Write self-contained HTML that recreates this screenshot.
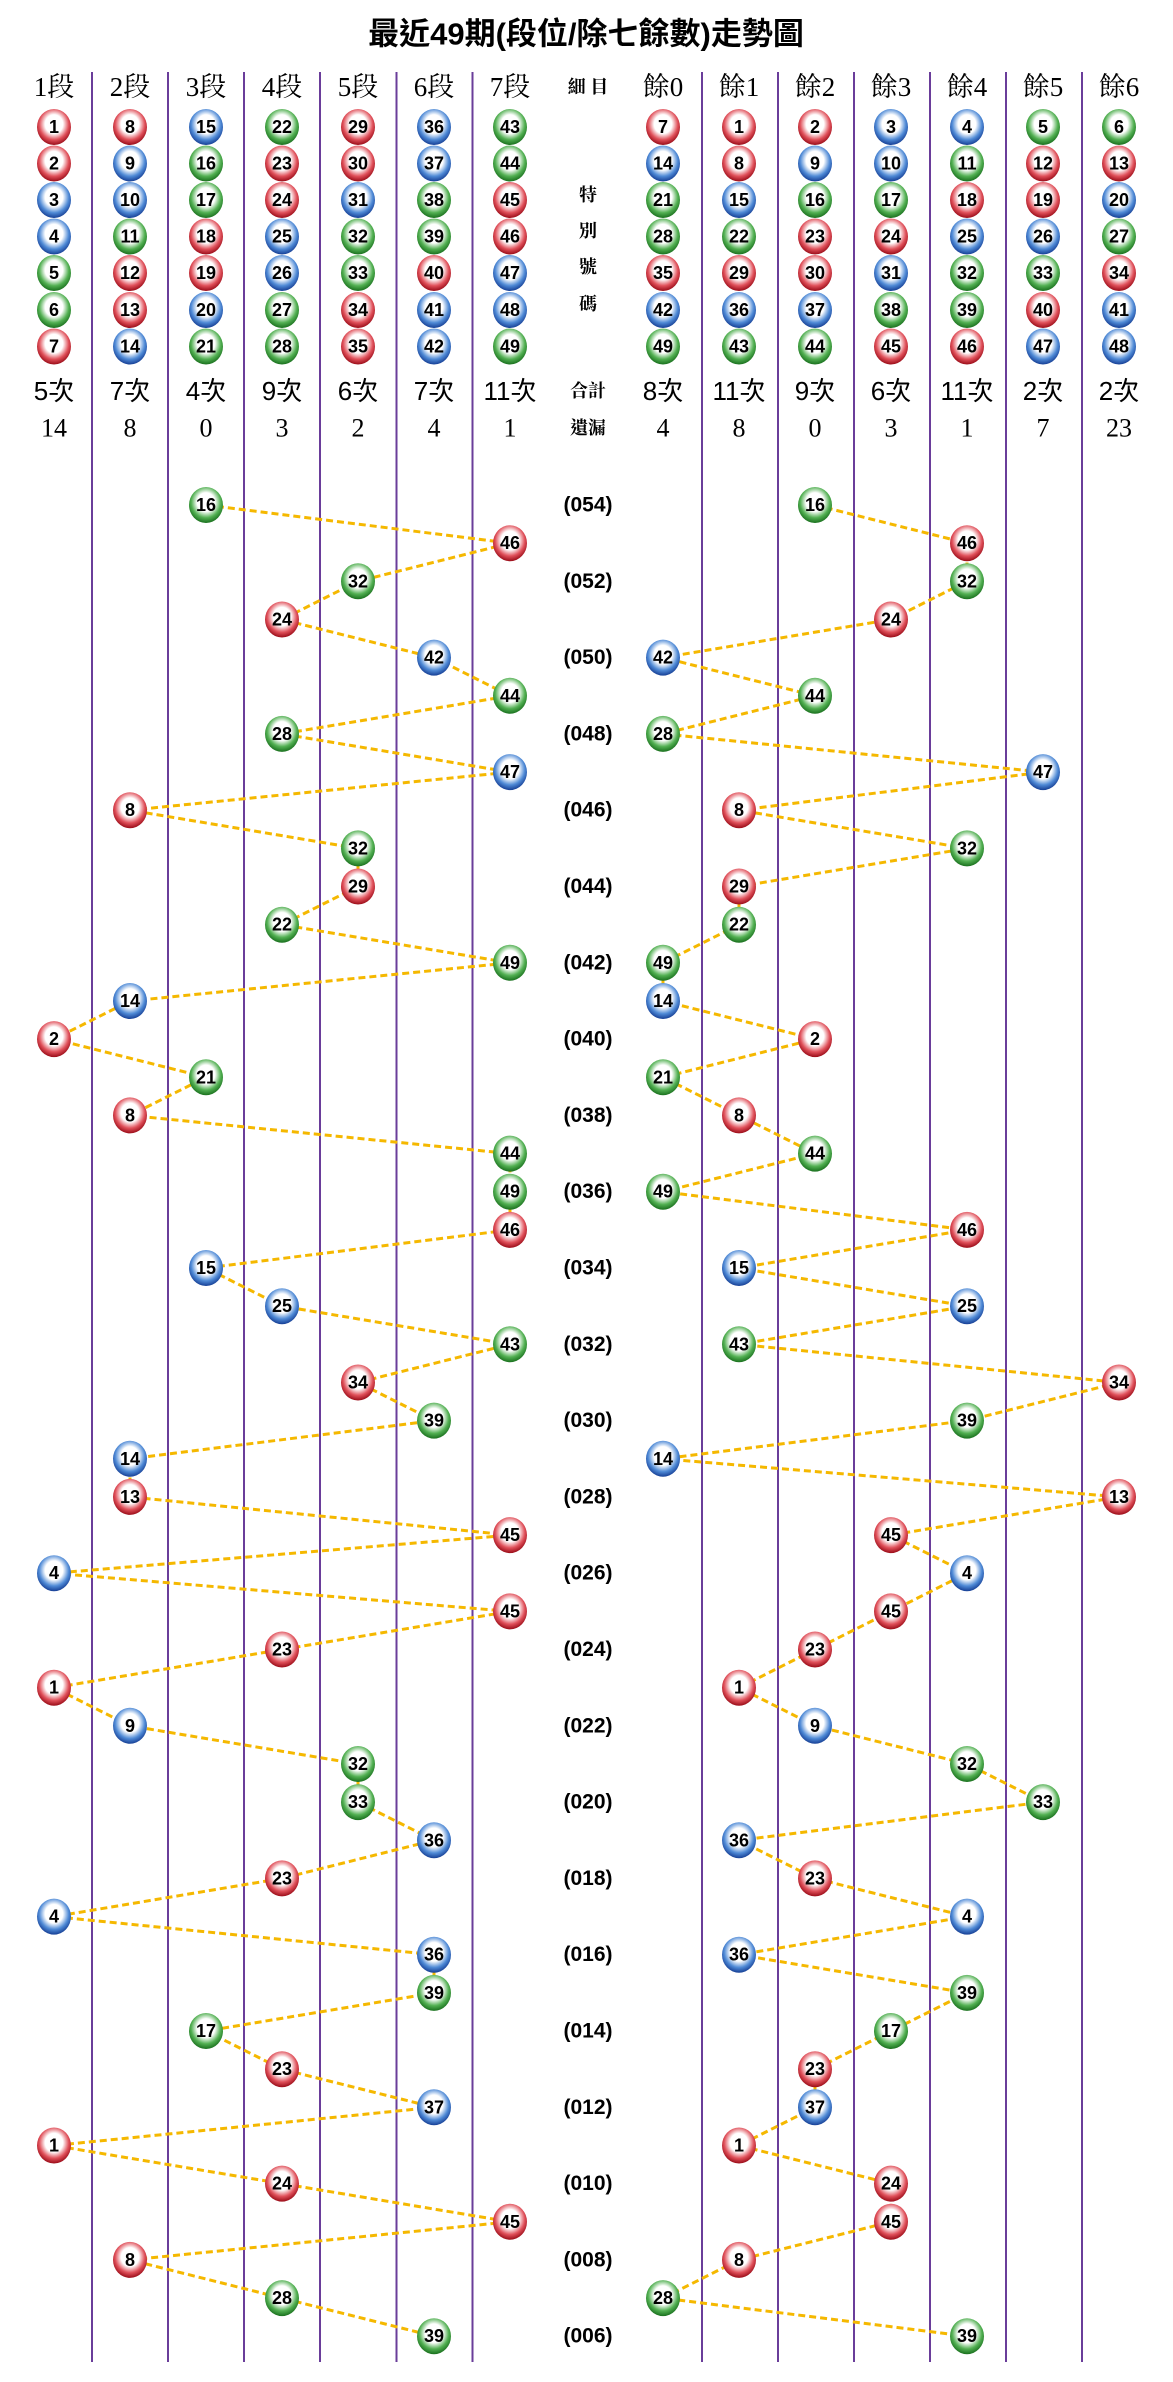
<!DOCTYPE html>
<html><head><meta charset="utf-8"><style>
html,body{margin:0;padding:0;background:#fff;}
svg{display:block;}
.n{font-family:"Liberation Sans Narrow","Liberation Sans",sans-serif;font-weight:bold;font-size:18px;text-anchor:middle;dominant-baseline:central;fill:#000;}
.h{font-family:"Liberation Serif","Noto Serif CJK SC",serif;font-size:27px;text-anchor:middle;dominant-baseline:central;}
.c{font-family:"Liberation Sans","Noto Sans CJK TC",sans-serif;font-size:26px;text-anchor:middle;dominant-baseline:central;}
.m{font-family:"Liberation Serif","Noto Serif CJK TC",serif;font-size:18px;font-weight:bold;text-anchor:middle;dominant-baseline:central;}
.p{font-family:"Liberation Sans",sans-serif;font-size:21px;font-weight:bold;text-anchor:middle;dominant-baseline:central;}
</style></head><body>
<svg width="1173" height="2382" viewBox="0 0 1173 2382" xmlns="http://www.w3.org/2000/svg">
<defs>
<radialGradient id="gR" cx="50%" cy="42%" r="58%"><stop offset="0" stop-color="#fff"/><stop offset="0.45" stop-color="#fff"/><stop offset="0.75" stop-color="#e0505a"/><stop offset="1" stop-color="#9a0c18"/></radialGradient>
<radialGradient id="gB" cx="50%" cy="42%" r="58%"><stop offset="0" stop-color="#fff"/><stop offset="0.45" stop-color="#fff"/><stop offset="0.75" stop-color="#4f8ad6"/><stop offset="1" stop-color="#163f95"/></radialGradient>
<radialGradient id="gG" cx="50%" cy="42%" r="58%"><stop offset="0" stop-color="#fff"/><stop offset="0.45" stop-color="#fff"/><stop offset="0.75" stop-color="#52b052"/><stop offset="1" stop-color="#1a701e"/></radialGradient>
<g id="r"><ellipse cx="0" cy="0" rx="17" ry="18" fill="url(#gR)"/></g>
<g id="b"><ellipse cx="0" cy="0" rx="17" ry="18" fill="url(#gB)"/></g>
<g id="g"><ellipse cx="0" cy="0" rx="17" ry="18" fill="url(#gG)"/></g>
</defs>

<text x="586" y="34" font-family="Liberation Sans,Noto Sans CJK TC,sans-serif" font-size="31" font-weight="bold" text-anchor="middle" dominant-baseline="central">最近49期(段位/除七餘數)走勢圖</text>

<g stroke="#6a3d9a" stroke-width="2">
<line x1="92" y1="72" x2="92" y2="2362"/><line x1="168" y1="72" x2="168" y2="2362"/><line x1="244" y1="72" x2="244" y2="2362"/><line x1="320" y1="72" x2="320" y2="2362"/><line x1="396.5" y1="72" x2="396.5" y2="2362"/><line x1="472.5" y1="72" x2="472.5" y2="2362"/>
<line x1="702" y1="72" x2="702" y2="2362"/><line x1="778" y1="72" x2="778" y2="2362"/><line x1="854" y1="72" x2="854" y2="2362"/><line x1="930" y1="72" x2="930" y2="2362"/><line x1="1006" y1="72" x2="1006" y2="2362"/><line x1="1082" y1="72" x2="1082" y2="2362"/>
</g>

<text class="h" x="54" y="87">1段</text><text class="h" x="130" y="87">2段</text><text class="h" x="206" y="87">3段</text><text class="h" x="282" y="87">4段</text><text class="h" x="358" y="87">5段</text><text class="h" x="434" y="87">6段</text><text class="h" x="510" y="87">7段</text>
<text class="m" x="588" y="87">細 目</text>
<text class="h" x="663" y="87">餘0</text><text class="h" x="739" y="87">餘1</text><text class="h" x="815" y="87">餘2</text><text class="h" x="891" y="87">餘3</text><text class="h" x="967" y="87">餘4</text><text class="h" x="1043" y="87">餘5</text><text class="h" x="1119" y="87">餘6</text>
<text class="m" x="588" y="195">特</text><text class="m" x="588" y="231">別</text><text class="m" x="588" y="267">號</text><text class="m" x="588" y="304">碼</text>

<!-- header balls -->
<use href="#r" x="54" y="127"/><use href="#r" x="54" y="163.5"/><use href="#b" x="54" y="200"/><use href="#b" x="54" y="236.5"/><use href="#g" x="54" y="273"/><use href="#g" x="54" y="310"/><use href="#r" x="54" y="346.5"/>
<use href="#r" x="130" y="127"/><use href="#b" x="130" y="163.5"/><use href="#b" x="130" y="200"/><use href="#g" x="130" y="236.5"/><use href="#r" x="130" y="273"/><use href="#r" x="130" y="310"/><use href="#b" x="130" y="346.5"/>
<use href="#b" x="206" y="127"/><use href="#g" x="206" y="163.5"/><use href="#g" x="206" y="200"/><use href="#r" x="206" y="236.5"/><use href="#r" x="206" y="273"/><use href="#b" x="206" y="310"/><use href="#g" x="206" y="346.5"/>
<use href="#g" x="282" y="127"/><use href="#r" x="282" y="163.5"/><use href="#r" x="282" y="200"/><use href="#b" x="282" y="236.5"/><use href="#b" x="282" y="273"/><use href="#g" x="282" y="310"/><use href="#g" x="282" y="346.5"/>
<use href="#r" x="358" y="127"/><use href="#r" x="358" y="163.5"/><use href="#b" x="358" y="200"/><use href="#g" x="358" y="236.5"/><use href="#g" x="358" y="273"/><use href="#r" x="358" y="310"/><use href="#r" x="358" y="346.5"/>
<use href="#b" x="434" y="127"/><use href="#b" x="434" y="163.5"/><use href="#g" x="434" y="200"/><use href="#g" x="434" y="236.5"/><use href="#r" x="434" y="273"/><use href="#b" x="434" y="310"/><use href="#b" x="434" y="346.5"/>
<use href="#g" x="510" y="127"/><use href="#g" x="510" y="163.5"/><use href="#r" x="510" y="200"/><use href="#r" x="510" y="236.5"/><use href="#b" x="510" y="273"/><use href="#b" x="510" y="310"/><use href="#g" x="510" y="346.5"/>
<use href="#r" x="663" y="127"/><use href="#b" x="663" y="163.5"/><use href="#g" x="663" y="200"/><use href="#g" x="663" y="236.5"/><use href="#r" x="663" y="273"/><use href="#b" x="663" y="310"/><use href="#g" x="663" y="346.5"/>
<use href="#r" x="739" y="127"/><use href="#r" x="739" y="163.5"/><use href="#b" x="739" y="200"/><use href="#g" x="739" y="236.5"/><use href="#r" x="739" y="273"/><use href="#b" x="739" y="310"/><use href="#g" x="739" y="346.5"/>
<use href="#r" x="815" y="127"/><use href="#b" x="815" y="163.5"/><use href="#g" x="815" y="200"/><use href="#r" x="815" y="236.5"/><use href="#r" x="815" y="273"/><use href="#b" x="815" y="310"/><use href="#g" x="815" y="346.5"/>
<use href="#b" x="891" y="127"/><use href="#b" x="891" y="163.5"/><use href="#g" x="891" y="200"/><use href="#r" x="891" y="236.5"/><use href="#b" x="891" y="273"/><use href="#g" x="891" y="310"/><use href="#r" x="891" y="346.5"/>
<use href="#b" x="967" y="127"/><use href="#g" x="967" y="163.5"/><use href="#r" x="967" y="200"/><use href="#b" x="967" y="236.5"/><use href="#g" x="967" y="273"/><use href="#g" x="967" y="310"/><use href="#r" x="967" y="346.5"/>
<use href="#g" x="1043" y="127"/><use href="#r" x="1043" y="163.5"/><use href="#r" x="1043" y="200"/><use href="#b" x="1043" y="236.5"/><use href="#g" x="1043" y="273"/><use href="#r" x="1043" y="310"/><use href="#b" x="1043" y="346.5"/>
<use href="#g" x="1119" y="127"/><use href="#r" x="1119" y="163.5"/><use href="#b" x="1119" y="200"/><use href="#g" x="1119" y="236.5"/><use href="#r" x="1119" y="273"/><use href="#b" x="1119" y="310"/><use href="#b" x="1119" y="346.5"/>

<g class="n">
<text x="54" y="127">1</text><text x="54" y="163.5">2</text><text x="54" y="200">3</text><text x="54" y="236.5">4</text><text x="54" y="273">5</text><text x="54" y="310">6</text><text x="54" y="346.5">7</text>
<text x="130" y="127">8</text><text x="130" y="163.5">9</text><text x="130" y="200">10</text><text x="130" y="236.5">11</text><text x="130" y="273">12</text><text x="130" y="310">13</text><text x="130" y="346.5">14</text>
<text x="206" y="127">15</text><text x="206" y="163.5">16</text><text x="206" y="200">17</text><text x="206" y="236.5">18</text><text x="206" y="273">19</text><text x="206" y="310">20</text><text x="206" y="346.5">21</text>
<text x="282" y="127">22</text><text x="282" y="163.5">23</text><text x="282" y="200">24</text><text x="282" y="236.5">25</text><text x="282" y="273">26</text><text x="282" y="310">27</text><text x="282" y="346.5">28</text>
<text x="358" y="127">29</text><text x="358" y="163.5">30</text><text x="358" y="200">31</text><text x="358" y="236.5">32</text><text x="358" y="273">33</text><text x="358" y="310">34</text><text x="358" y="346.5">35</text>
<text x="434" y="127">36</text><text x="434" y="163.5">37</text><text x="434" y="200">38</text><text x="434" y="236.5">39</text><text x="434" y="273">40</text><text x="434" y="310">41</text><text x="434" y="346.5">42</text>
<text x="510" y="127">43</text><text x="510" y="163.5">44</text><text x="510" y="200">45</text><text x="510" y="236.5">46</text><text x="510" y="273">47</text><text x="510" y="310">48</text><text x="510" y="346.5">49</text>
<text x="663" y="127">7</text><text x="663" y="163.5">14</text><text x="663" y="200">21</text><text x="663" y="236.5">28</text><text x="663" y="273">35</text><text x="663" y="310">42</text><text x="663" y="346.5">49</text>
<text x="739" y="127">1</text><text x="739" y="163.5">8</text><text x="739" y="200">15</text><text x="739" y="236.5">22</text><text x="739" y="273">29</text><text x="739" y="310">36</text><text x="739" y="346.5">43</text>
<text x="815" y="127">2</text><text x="815" y="163.5">9</text><text x="815" y="200">16</text><text x="815" y="236.5">23</text><text x="815" y="273">30</text><text x="815" y="310">37</text><text x="815" y="346.5">44</text>
<text x="891" y="127">3</text><text x="891" y="163.5">10</text><text x="891" y="200">17</text><text x="891" y="236.5">24</text><text x="891" y="273">31</text><text x="891" y="310">38</text><text x="891" y="346.5">45</text>
<text x="967" y="127">4</text><text x="967" y="163.5">11</text><text x="967" y="200">18</text><text x="967" y="236.5">25</text><text x="967" y="273">32</text><text x="967" y="310">39</text><text x="967" y="346.5">46</text>
<text x="1043" y="127">5</text><text x="1043" y="163.5">12</text><text x="1043" y="200">19</text><text x="1043" y="236.5">26</text><text x="1043" y="273">33</text><text x="1043" y="310">40</text><text x="1043" y="346.5">47</text>
<text x="1119" y="127">6</text><text x="1119" y="163.5">13</text><text x="1119" y="200">20</text><text x="1119" y="236.5">27</text><text x="1119" y="273">34</text><text x="1119" y="310">41</text><text x="1119" y="346.5">48</text>
</g>

<g class="c">
<text x="54" y="391">5次</text><text x="130" y="391">7次</text><text x="206" y="391">4次</text><text x="282" y="391">9次</text><text x="358" y="391">6次</text><text x="434" y="391">7次</text><text x="510" y="391">11次</text>
<text x="663" y="391">8次</text><text x="739" y="391">11次</text><text x="815" y="391">9次</text><text x="891" y="391">6次</text><text x="967" y="391">11次</text><text x="1043" y="391">2次</text><text x="1119" y="391">2次</text>
</g>
<text class="m" x="588" y="391">合計</text><text class="m" x="588" y="428">遺漏</text>
<g class="h" style="font-size:26px">
<text x="54" y="428">14</text><text x="130" y="428">8</text><text x="206" y="428">0</text><text x="282" y="428">3</text><text x="358" y="428">2</text><text x="434" y="428">4</text><text x="510" y="428">1</text>
<text x="663" y="428">4</text><text x="739" y="428">8</text><text x="815" y="428">0</text><text x="891" y="428">3</text><text x="967" y="428">1</text><text x="1043" y="428">7</text><text x="1119" y="428">23</text>
</g>

<!-- trend lines -->
<g fill="none" stroke="#f5b800" stroke-width="3" stroke-dasharray="7,4">
<polyline points="206,505 510,543.2 358,581.3 282,619.5 434,657.6 510,695.8 282,733.9 510,772.1 130,810.2 358,848.4 358,886.5 282,924.7 510,962.8 130,1001 54,1039.1 206,1077.3 130,1115.4 510,1153.6 510,1191.7 510,1229.9 206,1268 282,1306.2 510,1344.3 358,1382.5 434,1420.6 130,1458.8 130,1496.9 510,1535.1 54,1573.2 510,1611.4 282,1649.5 54,1687.7 130,1725.8 358,1764 358,1802.1 434,1840.3 282,1878.4 54,1916.6 434,1954.7 434,1992.9 206,2031 282,2069.2 434,2107.3 54,2145.5 282,2183.6 510,2221.8 130,2259.9 282,2298.1 434,2336.2"/>
<polyline points="815,505 967,543.2 967,581.3 891,619.5 663,657.6 815,695.8 663,733.9 1043,772.1 739,810.2 967,848.4 739,886.5 739,924.7 663,962.8 663,1001 815,1039.1 663,1077.3 739,1115.4 815,1153.6 663,1191.7 967,1229.9 739,1268 967,1306.2 739,1344.3 1119,1382.5 967,1420.6 663,1458.8 1119,1496.9 891,1535.1 967,1573.2 891,1611.4 815,1649.5 739,1687.7 815,1725.8 967,1764 1043,1802.1 739,1840.3 815,1878.4 967,1916.6 739,1954.7 967,1992.9 891,2031 815,2069.2 815,2107.3 739,2145.5 891,2183.6 891,2221.8 739,2259.9 663,2298.1 967,2336.2"/>
</g>

<!-- period labels -->
<g class="p">
<text x="588" y="505">(054)</text><text x="588" y="581.3">(052)</text><text x="588" y="657.6">(050)</text><text x="588" y="733.9">(048)</text><text x="588" y="810.2">(046)</text><text x="588" y="886.5">(044)</text><text x="588" y="962.8">(042)</text><text x="588" y="1039.1">(040)</text><text x="588" y="1115.4">(038)</text><text x="588" y="1191.7">(036)</text><text x="588" y="1268">(034)</text><text x="588" y="1344.3">(032)</text><text x="588" y="1420.6">(030)</text><text x="588" y="1496.9">(028)</text><text x="588" y="1573.2">(026)</text><text x="588" y="1649.5">(024)</text><text x="588" y="1725.8">(022)</text><text x="588" y="1802.1">(020)</text><text x="588" y="1878.4">(018)</text><text x="588" y="1954.7">(016)</text><text x="588" y="2031">(014)</text><text x="588" y="2107.3">(012)</text><text x="588" y="2183.6">(010)</text><text x="588" y="2259.9">(008)</text><text x="588" y="2336.2">(006)</text>
</g>

<!-- trend balls left -->
<use href="#g" x="206" y="505"/><use href="#r" x="510" y="543.2"/><use href="#g" x="358" y="581.3"/><use href="#r" x="282" y="619.5"/><use href="#b" x="434" y="657.6"/><use href="#g" x="510" y="695.8"/><use href="#g" x="282" y="733.9"/><use href="#b" x="510" y="772.1"/><use href="#r" x="130" y="810.2"/><use href="#g" x="358" y="848.4"/><use href="#r" x="358" y="886.5"/><use href="#g" x="282" y="924.7"/><use href="#g" x="510" y="962.8"/><use href="#b" x="130" y="1001"/><use href="#r" x="54" y="1039.1"/><use href="#g" x="206" y="1077.3"/><use href="#r" x="130" y="1115.4"/><use href="#g" x="510" y="1153.6"/><use href="#g" x="510" y="1191.7"/><use href="#r" x="510" y="1229.9"/><use href="#b" x="206" y="1268"/><use href="#b" x="282" y="1306.2"/><use href="#g" x="510" y="1344.3"/><use href="#r" x="358" y="1382.5"/><use href="#g" x="434" y="1420.6"/><use href="#b" x="130" y="1458.8"/><use href="#r" x="130" y="1496.9"/><use href="#r" x="510" y="1535.1"/><use href="#b" x="54" y="1573.2"/><use href="#r" x="510" y="1611.4"/><use href="#r" x="282" y="1649.5"/><use href="#r" x="54" y="1687.7"/><use href="#b" x="130" y="1725.8"/><use href="#g" x="358" y="1764"/><use href="#g" x="358" y="1802.1"/><use href="#b" x="434" y="1840.3"/><use href="#r" x="282" y="1878.4"/><use href="#b" x="54" y="1916.6"/><use href="#b" x="434" y="1954.7"/><use href="#g" x="434" y="1992.9"/><use href="#g" x="206" y="2031"/><use href="#r" x="282" y="2069.2"/><use href="#b" x="434" y="2107.3"/><use href="#r" x="54" y="2145.5"/><use href="#r" x="282" y="2183.6"/><use href="#r" x="510" y="2221.8"/><use href="#r" x="130" y="2259.9"/><use href="#g" x="282" y="2298.1"/><use href="#g" x="434" y="2336.2"/>
<!-- trend balls right -->
<use href="#g" x="815" y="505"/><use href="#r" x="967" y="543.2"/><use href="#g" x="967" y="581.3"/><use href="#r" x="891" y="619.5"/><use href="#b" x="663" y="657.6"/><use href="#g" x="815" y="695.8"/><use href="#g" x="663" y="733.9"/><use href="#b" x="1043" y="772.1"/><use href="#r" x="739" y="810.2"/><use href="#g" x="967" y="848.4"/><use href="#r" x="739" y="886.5"/><use href="#g" x="739" y="924.7"/><use href="#g" x="663" y="962.8"/><use href="#b" x="663" y="1001"/><use href="#r" x="815" y="1039.1"/><use href="#g" x="663" y="1077.3"/><use href="#r" x="739" y="1115.4"/><use href="#g" x="815" y="1153.6"/><use href="#g" x="663" y="1191.7"/><use href="#r" x="967" y="1229.9"/><use href="#b" x="739" y="1268"/><use href="#b" x="967" y="1306.2"/><use href="#g" x="739" y="1344.3"/><use href="#r" x="1119" y="1382.5"/><use href="#g" x="967" y="1420.6"/><use href="#b" x="663" y="1458.8"/><use href="#r" x="1119" y="1496.9"/><use href="#r" x="891" y="1535.1"/><use href="#b" x="967" y="1573.2"/><use href="#r" x="891" y="1611.4"/><use href="#r" x="815" y="1649.5"/><use href="#r" x="739" y="1687.7"/><use href="#b" x="815" y="1725.8"/><use href="#g" x="967" y="1764"/><use href="#g" x="1043" y="1802.1"/><use href="#b" x="739" y="1840.3"/><use href="#r" x="815" y="1878.4"/><use href="#b" x="967" y="1916.6"/><use href="#b" x="739" y="1954.7"/><use href="#g" x="967" y="1992.9"/><use href="#g" x="891" y="2031"/><use href="#r" x="815" y="2069.2"/><use href="#b" x="815" y="2107.3"/><use href="#r" x="739" y="2145.5"/><use href="#r" x="891" y="2183.6"/><use href="#r" x="891" y="2221.8"/><use href="#r" x="739" y="2259.9"/><use href="#g" x="663" y="2298.1"/><use href="#g" x="967" y="2336.2"/>

<g class="n">
<text x="206" y="505">16</text><text x="510" y="543.2">46</text><text x="358" y="581.3">32</text><text x="282" y="619.5">24</text><text x="434" y="657.6">42</text><text x="510" y="695.8">44</text><text x="282" y="733.9">28</text><text x="510" y="772.1">47</text><text x="130" y="810.2">8</text><text x="358" y="848.4">32</text><text x="358" y="886.5">29</text><text x="282" y="924.7">22</text><text x="510" y="962.8">49</text><text x="130" y="1001">14</text><text x="54" y="1039.1">2</text><text x="206" y="1077.3">21</text><text x="130" y="1115.4">8</text><text x="510" y="1153.6">44</text><text x="510" y="1191.7">49</text><text x="510" y="1229.9">46</text><text x="206" y="1268">15</text><text x="282" y="1306.2">25</text><text x="510" y="1344.3">43</text><text x="358" y="1382.5">34</text><text x="434" y="1420.6">39</text><text x="130" y="1458.8">14</text><text x="130" y="1496.9">13</text><text x="510" y="1535.1">45</text><text x="54" y="1573.2">4</text><text x="510" y="1611.4">45</text><text x="282" y="1649.5">23</text><text x="54" y="1687.7">1</text><text x="130" y="1725.8">9</text><text x="358" y="1764">32</text><text x="358" y="1802.1">33</text><text x="434" y="1840.3">36</text><text x="282" y="1878.4">23</text><text x="54" y="1916.6">4</text><text x="434" y="1954.7">36</text><text x="434" y="1992.9">39</text><text x="206" y="2031">17</text><text x="282" y="2069.2">23</text><text x="434" y="2107.3">37</text><text x="54" y="2145.5">1</text><text x="282" y="2183.6">24</text><text x="510" y="2221.8">45</text><text x="130" y="2259.9">8</text><text x="282" y="2298.1">28</text><text x="434" y="2336.2">39</text>
<text x="815" y="505">16</text><text x="967" y="543.2">46</text><text x="967" y="581.3">32</text><text x="891" y="619.5">24</text><text x="663" y="657.6">42</text><text x="815" y="695.8">44</text><text x="663" y="733.9">28</text><text x="1043" y="772.1">47</text><text x="739" y="810.2">8</text><text x="967" y="848.4">32</text><text x="739" y="886.5">29</text><text x="739" y="924.7">22</text><text x="663" y="962.8">49</text><text x="663" y="1001">14</text><text x="815" y="1039.1">2</text><text x="663" y="1077.3">21</text><text x="739" y="1115.4">8</text><text x="815" y="1153.6">44</text><text x="663" y="1191.7">49</text><text x="967" y="1229.9">46</text><text x="739" y="1268">15</text><text x="967" y="1306.2">25</text><text x="739" y="1344.3">43</text><text x="1119" y="1382.5">34</text><text x="967" y="1420.6">39</text><text x="663" y="1458.8">14</text><text x="1119" y="1496.9">13</text><text x="891" y="1535.1">45</text><text x="967" y="1573.2">4</text><text x="891" y="1611.4">45</text><text x="815" y="1649.5">23</text><text x="739" y="1687.7">1</text><text x="815" y="1725.8">9</text><text x="967" y="1764">32</text><text x="1043" y="1802.1">33</text><text x="739" y="1840.3">36</text><text x="815" y="1878.4">23</text><text x="967" y="1916.6">4</text><text x="739" y="1954.7">36</text><text x="967" y="1992.9">39</text><text x="891" y="2031">17</text><text x="815" y="2069.2">23</text><text x="815" y="2107.3">37</text><text x="739" y="2145.5">1</text><text x="891" y="2183.6">24</text><text x="891" y="2221.8">45</text><text x="739" y="2259.9">8</text><text x="663" y="2298.1">28</text><text x="967" y="2336.2">39</text>
</g>
</svg>
</body></html>
